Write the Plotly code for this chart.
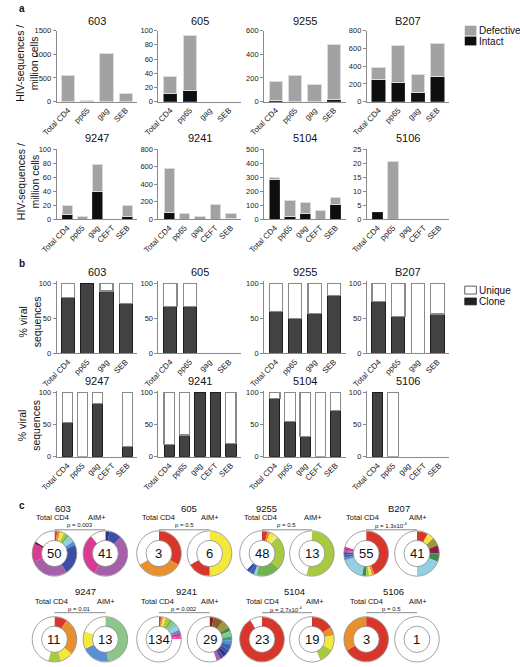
import plotly.graph_objects as go

W, H = 520, 667
FONT = "Liberation Sans, Arial, Helvetica, sans-serif"

# ---------------- data ----------------
CATS4 = ["Total CD4", "pp65", "gag", "SEB"]
CATS5 = ["Total CD4", "pp65", "gag", "CEFT", "SEB"]
DONORS = ["603", "605", "9255", "B207", "9247", "9241", "5104", "5106"]

# panel a: HIV-sequences / million cells
intact_603 = [0, 0, 0, 0]
defective_603 = [550, 15, 1010, 170]
intact_605 = [12, 16, 0, 0]
defective_605 = [23, 77, 0, 0]
intact_9255 = [12, 0, 0, 18]
defective_9255 = [158, 220, 145, 467]
intact_B207 = [250, 215, 105, 285]
defective_B207 = [130, 415, 205, 365]
intact_9247 = [7, 0, 39, 0, 3]
defective_9247 = [13, 3, 39, 0, 16]
intact_9241 = [75, 0, 0, 0, 5]
defective_9241 = [505, 65, 30, 170, 55]
intact_5104 = [285, 15, 38, 0, 103]
defective_5104 = [13, 117, 77, 62, 52]
intact_5106 = [2.5, 0, 0, 0, 0]
defective_5106 = [0, 20.7, 0, 0, 0]
a_ymax = [1500, 100, 600, 800, 100, 800, 500, 25]
a_dtick = [500, 20, 200, 200, 20, 200, 100, 5]

# panel b: % clonal viral sequences (None = no sequences)
clone_603 = [80, 100, 89, 71]
clone_605 = [67, 67, None, None]
clone_9255 = [60, 50, 57, 82]
clone_B207 = [74, 53, 0, 56]
clone_9247 = [54, 0, 83, None, 16]
clone_9241 = [19, 34, 100, 100, 21]
clone_5104 = [91, 55, 32, 0, 72]
clone_5106 = [100, 0, None, None, None]

# panel c: number of sequences and clone shares (% of ring)
seqs_total = [50, 3, 48, 55, 11, 134, 23, 3]
seqs_aim = [41, 6, 13, 41, 13, 29, 19, 1]
p_values = ["p = 0.003", "p = 0.5", "p = 0.5", "p = 1.3x10<sup>-4</sup>",
            "p = 0.01", "p = 0.002", "p = 2.7x10<sup>-4</sup>", "p = 0.5"]

ring_603_total = [2, 2, 3, 2, 2, 5, 3, 22, 28, 13, 2, 16]
ring_603_aim = [3, 9, 46, 31, 11]
ring_605_total = [1, 1, 1]
ring_605_aim = [3, 1, 2]
ring_9255_total = [4, 2, 4, 2, 25, 17, 2, 3, 3, 38]
ring_9255_aim = [54, 46]
ring_B207_total = [44, 2, 2, 2, 3, 17, 2, 2, 2, 1, 3, 20]
ring_B207_aim = [8, 5, 6, 6, 6, 19, 50]
ring_9247_total = [1, 3, 1, 1, 5]
ring_9247_aim = [48, 20, 13, 19]
ring_9241_total = [1.5, 1.5, 2, 3, 2, 3, 2, 3, 2, 3, 2, 75]
ring_9241_aim = [3, 7, 6, 3, 4, 3, 3, 4, 3, 3, 3, 3, 55]
ring_5104_total = [21, 2]
ring_5104_aim = [16, 6, 11, 11, 56]
ring_5106_total = [2, 1]
ring_5106_aim = [1]

# ---------------- styles ----------------
RED, ORANGE, YELLOW, PALEY = "#d8362b", "#e88f2e", "#f4e83c", "#f1ec8e"
LIME, GREEN, LGREEN, DGREEN = "#a8ca3e", "#72b34d", "#8dc68b", "#3e8b52"
LBLUE, CYAN, SBLUE, CBLUE = "#90d0e2", "#7cc4df", "#4f8ed0", "#5b8fd2"
BLUE, DBLUE, NAVY, INDIGO = "#3a62b4", "#3c4ea6", "#2d2f82", "#5b3f9e"
PURPLE, MAGENTA, PINK, MAROON = "#a65fa9", "#d93a93", "#e8559f", "#8c1c4c"
DRED, BROWN, OLIVE, TEAL, WHITE = "#8b1a1a", "#8b5a2b", "#9c963c", "#3c9b8c", "#ffffff"

col_603_total = [RED, ORANGE, YELLOW, LIME, GREEN, LBLUE, SBLUE, DBLUE, PURPLE, MAGENTA, MAROON, WHITE]
col_603_aim = [NAVY, DBLUE, PURPLE, MAGENTA, WHITE]
col_605_total = [RED, ORANGE, WHITE]
col_605_aim = [YELLOW, RED, WHITE]
col_9255_total = [RED, ORANGE, YELLOW, PALEY, LIME, GREEN, LBLUE, BLUE, DBLUE, WHITE]
col_9255_aim = [LIME, WHITE]
col_B207_total = [RED, ORANGE, YELLOW, LIME, DGREEN, LBLUE, SBLUE, BLUE, DBLUE, PURPLE, MAGENTA, WHITE]
col_B207_aim = [RED, YELLOW, OLIVE, MAROON, DGREEN, LBLUE, WHITE]
col_9247_total = [RED, ORANGE, YELLOW, LIME, WHITE]
col_9247_aim = [LGREEN, CBLUE, YELLOW, WHITE]
col_9241_total = [RED, ORANGE, YELLOW, LIME, GREEN, LGREEN, CYAN, LBLUE, SBLUE, MAGENTA, PINK, WHITE]
col_9241_aim = [DRED, BROWN, OLIVE, DGREEN, LGREEN, TEAL, SBLUE, BLUE, DBLUE, NAVY, INDIGO, PURPLE, WHITE]
col_5104_total = [RED, WHITE]
col_5104_aim = [RED, ORANGE, YELLOW, LIME, WHITE]
col_5106_total = [RED, ORANGE]
col_5106_aim = [WHITE]

AX = "#8a8a8a"
COLS = [(42, 125), (147, 232), (256, 340), (362, 447)]


def px(x):
    return x / W


def py(y):
    return 1 - y / H


def nz(v):
    return [None if (a is None or a == 0) else a for a in v]


fig = go.Figure()
lay = {}
ann = []
shapes = []


def text(x, y, s, size, xanchor="center", bold=False, angle=0):
    ann.append(dict(x=px(x), y=py(y), xref="paper", yref="paper", text=("<b>%s</b>" % s if bold else s),
                    showarrow=False, xanchor=xanchor, yanchor="middle", textangle=angle,
                    font=dict(family=FONT, size=size, color="#111")))


def make_axes(i, col, top, bottom, cats, yrange, tickvals):
    xn = "xaxis" if i == 1 else "xaxis%d" % i
    yn = "yaxis" if i == 1 else "yaxis%d" % i
    xr = [-0.6, 3.6] if len(cats) == 4 else [-0.7, 4.65]
    lay[xn] = dict(domain=[px(COLS[col][0]), px(COLS[col][1])], anchor="y" if i == 1 else "y%d" % i,
                   type="category", categoryorder="array", categoryarray=cats, range=xr,
                   tickangle=-45, tickfont=dict(family=FONT, size=8, color="#222"),
                   showline=True, linecolor=AX, linewidth=1, ticks="", showgrid=False,
                   zeroline=False, fixedrange=True)
    lay[yn] = dict(domain=[py(bottom), py(top)], anchor="x" if i == 1 else "x%d" % i,
                   range=yrange, tickvals=tickvals, ticks="outside", ticklen=3, tickwidth=1,
                   tickcolor=AX, showline=True, linecolor=AX, linewidth=1, showgrid=False,
                   zeroline=False, tickfont=dict(family=FONT, size=7.5, color="#222"), fixedrange=True)
    return ("x" if i == 1 else "x%d" % i), ("y" if i == 1 else "y%d" % i)


# ---------------- panel a ----------------
A_ROWS = [(27, 99), (147, 218)]
a_intact = [intact_603, intact_605, intact_9255, intact_B207, intact_9247, intact_9241, intact_5104, intact_5106]
a_def = [defective_603, defective_605, defective_9255, defective_B207,
         defective_9247, defective_9241, defective_5104, defective_5106]
for k in range(8):
    row, col = divmod(k, 4)
    cats = CATS4 if row == 0 else CATS5
    top, bot = A_ROWS[row]
    tv = list(range(0, a_ymax[k] + 1, a_dtick[k]))
    xa, ya = make_axes(k + 1, col, top, bot, cats, [0, a_ymax[k]], tv)
    fig.add_trace(go.Bar(x=cats, y=nz(a_intact[k]), xaxis=xa, yaxis=ya, marker=dict(color="#0e0e0e",
                  line=dict(color="#3a3a3a", width=0.6)), showlegend=False, hoverinfo="skip"))
    fig.add_trace(go.Bar(x=cats, y=nz(a_def[k]), xaxis=xa, yaxis=ya, marker=dict(color="#a2a2a5",
                  line=dict(color="#dcdcdc", width=1)), showlegend=False, hoverinfo="skip"))
    text((COLS[col][0] + COLS[col][1]) / 2, 17 if row == 0 else 136, DONORS[k], 11)

# ---------------- panel b ----------------
B_ROWS = [(281, 354), (392, 459)]
b_clone = [clone_603, clone_605, clone_9255, clone_B207, clone_9247, clone_9241, clone_5104, clone_5106]
for k in range(8):
    row, col = divmod(k, 4)
    cats = CATS4 if row == 0 else CATS5
    top, bot = B_ROWS[row]
    xa, ya = make_axes(k + 9, col, top, bot, cats, [0, 103], [0, 50, 100])
    unique = [None if c is None else 100 - c for c in b_clone[k]]
    fig.add_trace(go.Bar(x=cats, y=nz(b_clone[k]), xaxis=xa, yaxis=ya, marker=dict(color="#424242",
                  line=dict(color="#1c1c1c", width=1)), showlegend=False, hoverinfo="skip"))
    fig.add_trace(go.Bar(x=cats, y=nz(unique), xaxis=xa, yaxis=ya, marker=dict(color="#ffffff",
                  line=dict(color="#8a8a8a", width=1.2)), showlegend=False, hoverinfo="skip"))
    text((COLS[col][0] + COLS[col][1]) / 2, 272 if row == 0 else 382, DONORS[k], 11)

# axis titles
text(12, 60, "HIV-sequences /<br>million cells", 10.5, angle=-90)
text(12, 180, "HIV-sequences /<br>million cells", 10.5, angle=-90)
text(14, 322, "% viral<br>sequences", 10.5, angle=-90)
text(14, 427, "% viral<br>sequences", 10.5, angle=-90)

# panel letters
text(1, 5, "a", 10, xanchor="left", bold=True)
text(1, 263, "b", 10, xanchor="left", bold=True)
text(1, 508, "c", 10, xanchor="left", bold=True)

# legends
shapes.append(dict(type="rect", xref="paper", yref="paper", x0=px(463), x1=px(475), y0=py(32), y1=py(22),
                   fillcolor="#a2a2a5", line=dict(width=0)))
shapes.append(dict(type="rect", xref="paper", yref="paper", x0=px(463), x1=px(475), y0=py(42), y1=py(33),
                   fillcolor="#0e0e0e", line=dict(width=0)))
text(476, 27, "Defective", 10, xanchor="left")
text(476, 38, "Intact", 10, xanchor="left")
shapes.append(dict(type="rect", xref="paper", yref="paper", x0=px(463), x1=px(475), y0=py(294), y1=py(286),
                   fillcolor="#ffffff", line=dict(width=0.8, color="#333")))
shapes.append(dict(type="rect", xref="paper", yref="paper", x0=px(463), x1=px(475), y0=py(305), y1=py(298),
                   fillcolor="#222", line=dict(width=0.8, color="#222")))
text(476, 290, "Unique", 10, xanchor="left")
text(476, 302, "Clone", 10, xanchor="left")

# ---------------- panel c ----------------
rings_total = [ring_603_total, ring_605_total, ring_9255_total, ring_B207_total,
               ring_9247_total, ring_9241_total, ring_5104_total, ring_5106_total]
rings_aim = [ring_603_aim, ring_605_aim, ring_9255_aim, ring_B207_aim,
             ring_9247_aim, ring_9241_aim, ring_5104_aim, ring_5106_aim]
cols_total = [col_603_total, col_605_total, col_9255_total, col_B207_total,
              col_9247_total, col_9241_total, col_5104_total, col_5106_total]
cols_aim = [col_603_aim, col_605_aim, col_9255_aim, col_B207_aim,
            col_9247_aim, col_9241_aim, col_5104_aim, col_5106_aim]

CX_T = [39.7, 147.5, 253.8, 361.3]
CX_A = [92.2, 199.7, 305.3, 413.7]
CY = [557, 644]
R, HOLE = 23, 0.58
TITLE_X = [[48, 178, 258, 395], [72, 176, 287, 389]]
TOT_X = [[38, 147, 252, 358], [37, 146, 254, 362]]
AIM_X = [[84, 200, 306, 415], [93, 200, 308, 415]]
TITLE_Y, LAB_Y, P_Y, LINE_Y = [511, 596], [521, 606], [528, 613], [533, 617]


def donut(cx, cy, vals, cols, n):
    fig.add_trace(go.Pie(values=vals, marker=dict(colors=cols, line=dict(width=0)), hole=HOLE, sort=False,
                         direction="clockwise", rotation=0, textinfo="none", hoverinfo="skip",
                         showlegend=False,
                         domain=dict(x=[px(cx - R), px(cx + R)], y=[max(0, py(cy + R)), py(cy - R)])))
    for rr in (R, R * HOLE):
        shapes.append(dict(type="circle", xref="paper", yref="paper", x0=px(cx - rr), x1=px(cx + rr),
                           y0=py(cy + rr), y1=py(cy - rr), line=dict(color="#8c8c8c", width=0.8)))
    text(cx, cy, str(n), 13)


for k in range(8):
    row, col = divmod(k, 4)
    cy = CY[row]
    donut(CX_T[col], cy, rings_total[k], cols_total[k], seqs_total[k])
    donut(CX_A[col], cy, rings_aim[k], cols_aim[k], seqs_aim[k])
    text(TITLE_X[row][col], TITLE_Y[row], DONORS[k], 9.5)
    text(TOT_X[row][col], LAB_Y[row], "Total CD4", 7.5)
    text(AIM_X[row][col], LAB_Y[row], "AIM+", 7.5)
    text((CX_T[col] + CX_A[col]) / 2, P_Y[row], p_values[k], 6)
    shapes.append(dict(type="line", xref="paper", yref="paper", x0=px(CX_T[col]), x1=px(CX_A[col]),
                       y0=py(LINE_Y[row]), y1=py(LINE_Y[row]), line=dict(color="#8c8c8c", width=1)))

fig.update_layout(width=W, height=H, autosize=False, margin=dict(l=0, r=0, t=0, b=0),
                  paper_bgcolor="white", plot_bgcolor="white", barmode="stack", bargap=0.32,
                  font=dict(family=FONT), annotations=ann, shapes=shapes, **lay)

fig.write_html("out.html", config={"displayModeBar": False, "staticPlot": True},
               post_script="document.body.style.margin='0';document.body.style.overflow='hidden';")
